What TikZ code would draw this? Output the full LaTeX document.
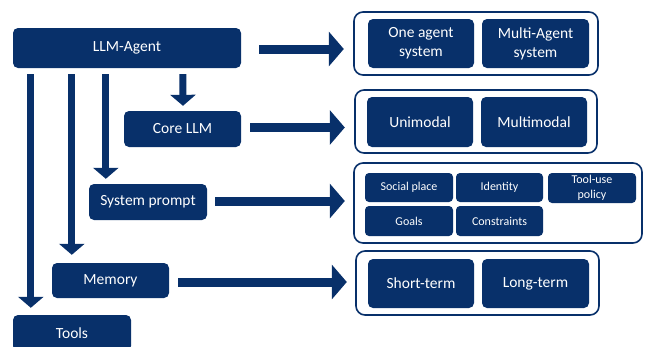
\documentclass[tikz,border=0pt]{standalone}
\usepackage{fontspec}
\setmainfont{Carlito}
\usetikzlibrary{arrows.meta,calc}
\definecolor{navy}{RGB}{8,48,106}
\begin{document}
\begin{tikzpicture}[x=1pt,y=-1pt,
  box/.style={fill=navy,draw=none,rounded corners=5pt,text=white,align=center,
    inner sep=0pt,font=\fontsize{15.5}{19}\selectfont},
  smallbox/.style={box,font=\fontsize{12}{15}\selectfont},
  container/.style={draw=navy,line width=1.6pt,rounded corners=9pt,fill=white},
  rarr/.style={draw=navy,line width=9pt,-{Triangle[width=34pt,length=15pt]}},
  darr/.style={draw=navy,line width=7pt,-{Triangle[width=25pt,length=11pt]}}]
\useasboundingbox (0,0) rectangle (645,346);
\clip (0,0) rectangle (645,346);
% left column
\node[box,minimum width=228pt,minimum height=40pt] (agent) at (127,48) {LLM-Agent};
\node[box,minimum width=117pt,minimum height=36pt] (core) at (182.5,129) {Core LLM};
\node[box,minimum width=118pt,minimum height=36pt] (sysp) at (148,202) {System prompt};
\node[box,minimum width=117pt,minimum height=35pt] (mem) at (110.5,280.5) {Memory};
\node[box,minimum width=118pt,minimum height=36pt] (tools) at (72,333) {Tools};
% containers
\draw[container] (354,12) rectangle (598,75);
\node[inner sep=0pt,minimum width=244pt,minimum height=63pt] (c1) at (476,43.5) {};
\draw[container] (355,90) rectangle (597,153);
\node[inner sep=0pt,minimum width=242pt,minimum height=63pt] (c2) at (476,121.5) {};
\draw[container] (354,163) rectangle (642,243);
\node[inner sep=0pt,minimum width=288pt,minimum height=80pt] (c3) at (498,203) {};
\draw[container] (356,251) rectangle (599,315);
\node[inner sep=0pt,minimum width=243pt,minimum height=64pt] (c4) at (477.5,283) {};
% inner boxes
\node[box,minimum width=106pt,minimum height=49pt] (one) at (421,43.5) {One agent\\system};
\node[box,minimum width=107pt,minimum height=49pt] (multi) at (535.5,43.5) {Multi-Agent\\system};
\node[box,minimum width=106pt,minimum height=50pt] (uni) at (420,122) {Unimodal};
\node[box,minimum width=106pt,minimum height=50pt] (mm) at (534,122) {Multimodal};
\node[smallbox,minimum width=88pt,minimum height=29pt,rounded corners=4pt] (social) at (409,187.5) {Social place};
\node[smallbox,minimum width=87pt,minimum height=29pt,rounded corners=4pt] (ident) at (499.5,187.5) {Identity};
\node[smallbox,minimum width=88pt,minimum height=30pt,rounded corners=4pt] (tup) at (592,188) {Tool-use\\policy};
\node[smallbox,minimum width=88pt,minimum height=30pt,rounded corners=4pt] (goals) at (409,221) {Goals};
\node[smallbox,minimum width=87pt,minimum height=30pt,rounded corners=4pt] (cons) at (499.5,221) {Constraints};
\node[box,minimum width=106pt,minimum height=49pt] (short) at (421,283.5) {Short-term};
\node[box,minimum width=107pt,minimum height=49pt] (long) at (535.5,283.5) {Long-term};
% down arrows
\draw[darr] ([xshift=170pt,yshift=-6pt]agent.south west) -- ([xshift=0.5pt,yshift=5pt]core.north);
\draw[darr] ([xshift=93pt,yshift=-6pt]agent.south west) -- ([xshift=17pt,yshift=5pt]sysp.north west);
\draw[darr] ([xshift=59pt,yshift=-6pt]agent.south west) -- ([xshift=20pt,yshift=8pt]mem.north west);
\draw[darr] ([xshift=18pt,yshift=-6pt]agent.south west) -- ([xshift=18pt,yshift=7pt]tools.north west);
% right arrows
\draw[rarr] ([xshift=18pt,yshift=-1pt]agent.east) -- ($(c1.west |- agent.east)+(-10,1)$);
\draw[rarr] ([xshift=9pt,yshift=1.5pt]core.east) -- ($(c2.west |- core.east)+(-10,-1.5)$);
\draw[rarr] ([xshift=8pt,yshift=1pt]sysp.east) -- ($(c3.west |- sysp.east)+(-9,-1)$);
\draw[rarr] ([xshift=9pt,yshift=-1.5pt]mem.east) -- ($(c4.west |- mem.east)+(-9,1.5)$);
\end{tikzpicture}
\end{document}
